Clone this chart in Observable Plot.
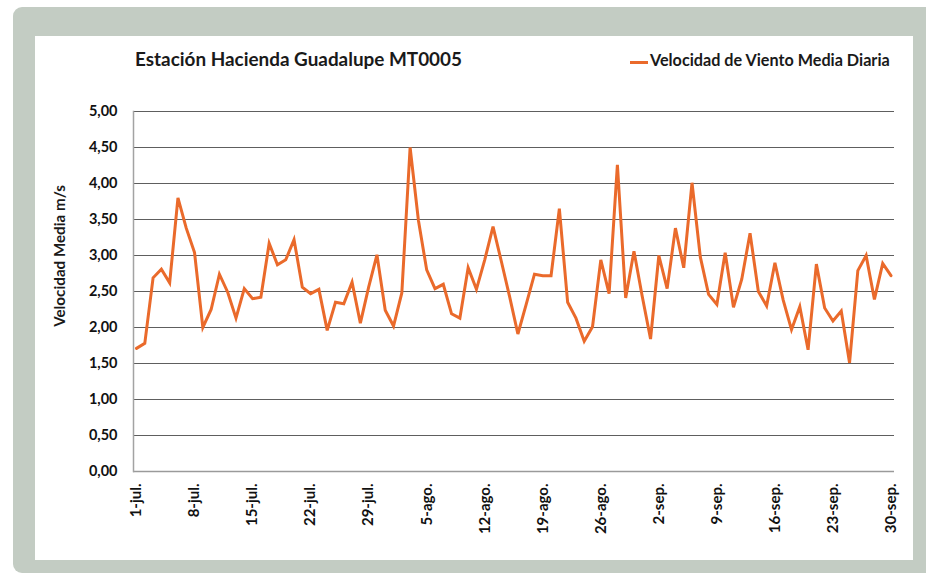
<!DOCTYPE html>
<html><head><meta charset="utf-8">
<script src="https://cdn.jsdelivr.net/npm/d3@7"></script>
<script src="https://cdn.jsdelivr.net/npm/@observablehq/plot@0.6"></script>
<style>
body{margin:0;width:926px;height:575px;position:relative;overflow:hidden;background:#fff;font-family:Lato,sans-serif;}
#outer{position:absolute;left:13px;top:7px;width:940px;height:566px;background:#c3ccc3;border-radius:9px;}
#panel{position:absolute;left:35px;top:36px;width:878px;height:524px;background:#fff;}
#title{position:absolute;left:135px;top:50px;font-weight:700;font-size:18.9px;line-height:1;color:#1a1a1a;white-space:nowrap;}
#legline{position:absolute;left:630px;top:61px;width:18px;height:3px;background:#ea6a2b;}
#legtext{position:absolute;left:650px;top:52px;font-weight:700;font-size:16.2px;line-height:1;color:#1a1a1a;white-space:nowrap;}
#ylabel{position:absolute;left:60px;top:256px;transform:translate(-50%,-50%) rotate(-90deg);font-weight:700;font-size:15.2px;line-height:1;color:#1a1a1a;white-space:nowrap;}
#chart{position:absolute;left:0;top:0;}
</style></head>
<body>
<div id="outer"></div>
<div id="panel"></div>
<div id="chart"></div>
<div id="title"></div>
<div id="legline"></div>
<div id="legtext"></div>
<div id="ylabel"></div>
<script>
const titleText = "Estación Hacienda Guadalupe MT0005";
const seriesName = "Velocidad de Viento Media Diaria";
const yTitle = "Velocidad Media m/s";
const tickLabels = ["1-jul.","8-jul.","15-jul.","22-jul.","29-jul.","5-ago.","12-ago.","19-ago.","26-ago.","2-sep.","9-sep.","16-sep.","23-sep.","30-sep."];
const tickDays = [1,8,15,22,29,36,43,50,57,64,71,78,85,92];
const yTicks = [0,0.5,1,1.5,2,2.5,3,3.5,4,4.5,5];
const julio = [1.71,1.78,2.69,2.81,2.62,3.80,3.38,3.04,2.00,2.25,2.74,2.49,2.13,2.54,2.40,2.42,3.17,2.87,2.94,3.22,2.56,2.47,2.53,1.96,2.35,2.33,2.63,2.06,2.56,3.01,2.24];
const agosto = [2.02,2.48,4.50,3.49,2.80,2.54,2.60,2.19,2.13,2.83,2.53,2.94,3.40,2.92,2.43,1.91,2.32,2.74,2.72,2.72,3.65,2.35,2.13,1.81,2.01,2.94,2.47,4.26,2.41,3.06,2.43];
const septiembre = [1.84,3.00,2.54,3.38,2.83,4.01,2.98,2.46,2.32,3.04,2.28,2.67,3.31,2.50,2.30,2.90,2.38,1.97,2.29,1.69,2.88,2.27,2.09,2.23,1.51,2.79,3.00,2.39,2.89,2.72];

document.getElementById("title").textContent = titleText;
document.getElementById("legtext").textContent = seriesName;
document.getElementById("ylabel").textContent = yTitle;

const values = [...julio, ...agosto, ...septiembre];
const data = values.map((v, i) => ({day: i + 1, v}));
const labelMap = new Map(tickDays.map((d, i) => [d, tickLabels[i]]));
const fmt = d => d.toFixed(2).replace(".", ",");

const chart = Plot.plot({
  width: 926,
  height: 575,
  marginLeft: 133,
  marginRight: 32,
  marginTop: 111,
  marginBottom: 104,
  insetLeft: 3,
  insetRight: 3.5,
  style: {background: "transparent", fontFamily: "Lato, sans-serif", color: "#111"},
  x: {domain: [1, 92]},
  y: {domain: [0, 5]},
  marks: [
    Plot.gridY(yTicks.filter(d => d > 0), {stroke: "#5e5e5e", strokeOpacity: 1, strokeWidth: 1}),
    Plot.ruleY([0], {stroke: "#9a9a9a", strokeWidth: 1.5}),
    Plot.frame({anchor: "left", stroke: "#a3a3a3", strokeWidth: 1.5}),
    Plot.axisY({ticks: yTicks, tickSize: 0, tickPadding: 16, tickFormat: fmt, fontWeight: "bold", fontSize: 14.5, fill: "#111", label: null}),
    Plot.axisX({ticks: tickDays, tickSize: 0, tickPadding: 12, tickRotate: -90, tickFormat: d => labelMap.get(d), fontWeight: "bold", fontSize: 15, fill: "#111", label: null}),
    Plot.line(data, {x: "day", y: "v", stroke: "#ea6a2b", strokeWidth: 3, strokeLinejoin: "miter", strokeMiterlimit: 4})
  ]
});
document.getElementById("chart").appendChild(chart);
</script>
</body></html>
